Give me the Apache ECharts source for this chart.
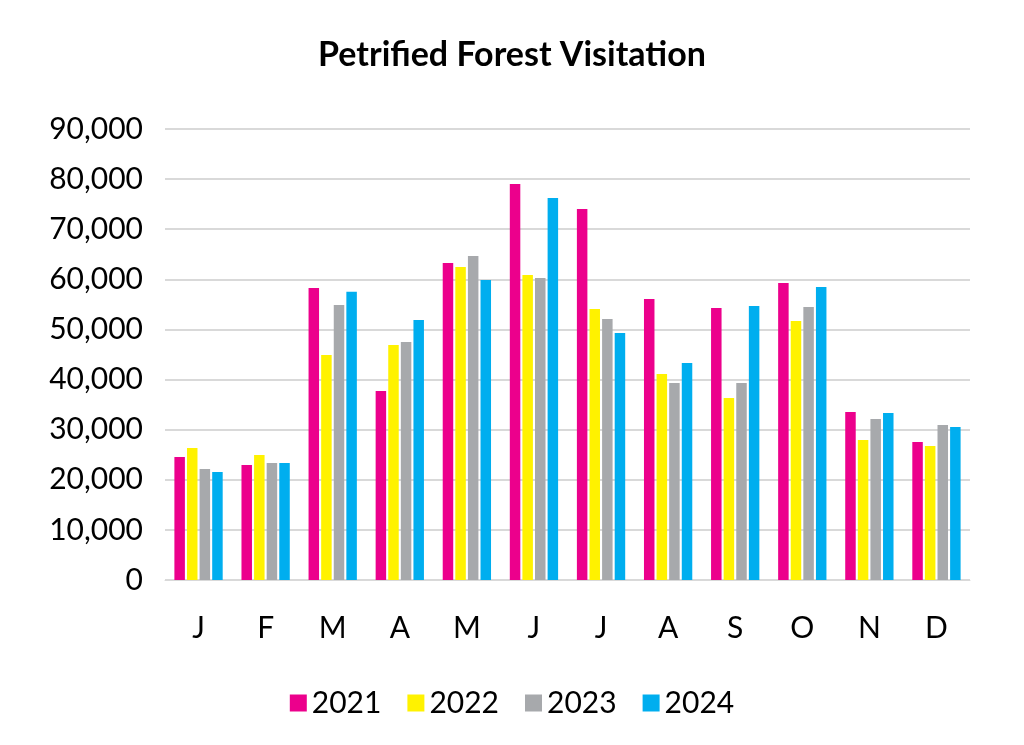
<!DOCTYPE html>
<html><head><meta charset="utf-8">
<script src="https://cdn.jsdelivr.net/npm/echarts@6/dist/echarts.min.js"></script>
<style>html,body{margin:0;padding:0;background:#fff}#c{width:1024px;height:745px}</style>
</head><body><div id="c"></div>
<script>
const months = ['J','F','M','A','M','J','J','A','S','O','N','D'];
const y2021 = [24550,22950,58280,37700,63270,79040,74050,56090,54290,59280,33530,27540];
const y2022 = [26350,24950,44900,46900,62470,60880,54090,41120,36330,51700,27940,26750];
const y2023 = [22150,23350,54900,47500,64670,60280,52100,39320,39320,54490,32140,30940];
const y2024 = [21550,23350,57500,51900,59880,76250,49300,43310,54690,58480,33330,30540];
const names = ['2021','2022','2023','2024'];
const colors = ['#EC008C','#FFF200','#A7A9AC','#00AEEF'];
const data = [y2021,y2022,y2023,y2024];
const chart = echarts.init(document.getElementById('c'));
chart.setOption({
  animation:false,
  title:{text:'Petrified Forest Visitation',left:'center',top:33,textStyle:{fontFamily:'Lato',fontSize:34,fontWeight:'bold',color:'#000'}},
  legend:{bottom:22,left:'center',itemWidth:17,itemHeight:17,itemGap:26,icon:'rect',textStyle:{fontFamily:'Lato',fontSize:30,color:'#000'}},
  grid:{left:165,right:54,top:129,bottom:165},
  xAxis:{type:'category',data:months,axisTick:{show:false},axisLine:{lineStyle:{color:'#d9d9d9'}},axisLabel:{fontFamily:'Lato',fontSize:30,color:'#000',margin:33}},
  yAxis:{type:'value',min:0,max:90000,interval:10000,splitLine:{lineStyle:{color:'#d9d9d9',width:2}},
    axisLabel:{fontFamily:'Lato',fontSize:30,color:'#000',margin:22,formatter:v=>v.toLocaleString('en-US')}},
  series:names.map((n,i)=>({name:n,type:'bar',data:data[i],itemStyle:{color:colors[i]},barGap:'20%',barCategoryGap:'28%'}))
});
</script></body></html>
